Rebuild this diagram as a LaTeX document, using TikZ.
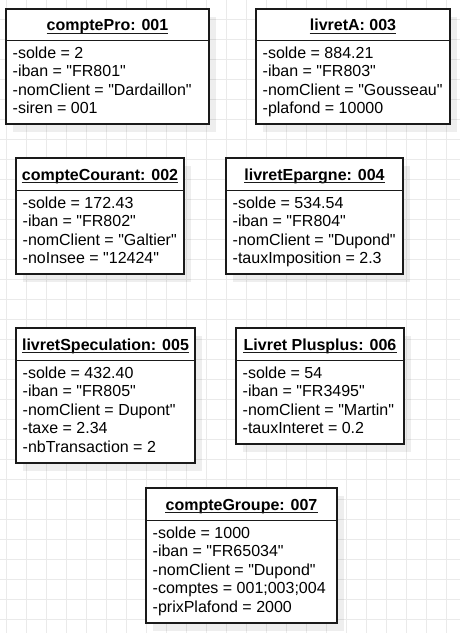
\documentclass[tikz,border=0pt]{standalone}
\usepackage{fontspec}
\setmainfont{Liberation Sans}[Ligatures=TeXOff]
\definecolor{gridc}{HTML}{EAEAEA}
\definecolor{boxc}{HTML}{1A1A1A}
\tikzset{
  gridline/.style={draw=gridc, line width=1pt},
  shadowfill/.style={fill=black, opacity=0.065},
  objbox/.style={draw=boxc, line width=1.5pt, fill=white, inner sep=0pt, outer sep=0pt, anchor=north west},
  objline/.style={draw=boxc, line width=1.5pt},
  hdr/.style={font=\bfseries\fontsize{16}{18}\selectfont, inner sep=0pt, anchor=base},
  ulline/.style={draw=boxc, line width=1.2pt},
  attr/.style={font=\fontsize{16}{18}\selectfont, inner sep=0pt, anchor=base west},
}
% #1 name, #2 x1, #3 y1, #4 x2, #5 y2, #6 divider y, #7 header, #8 attribute lines
\newcommand{\umlobj}[8]{%
  \fill[shadowfill] ({#2+7},{#3+8}) rectangle ({#4+7},{#5+8});
  \node[objbox, minimum width={(#4-#2)*1pt}, minimum height={(#5-#3)*1pt}] (#1) at (#2,#3) {};
  \draw[objline] (#1.west |- 0,#6) -- (#1.east |- 0,#6);
  \node[hdr] (#1-h) at ({(#2+#4)/2},{(#3+#6)/2+5.8}) {#7};
  \draw[ulline] ([yshift=-2.6pt]#1-h.base west) -- ([yshift=-2.6pt]#1-h.base east);
  \foreach \t [count=\i] in {#8} {
    \node[attr] (#1-\i) at ({#2+6.5},{#6+17.8+18.5*(\i-1)}) {\t};
  }
}
\begin{document}
\begin{tikzpicture}[x=1pt,y=-1pt]
\useasboundingbox (0,0) rectangle (460,633);
\fill[white] (0,0) rectangle (460,633);
\foreach \k in {0,...,22} { \draw[gridline] ({6.7+20*\k},0) -- ({6.7+20*\k},633); }
\foreach \k in {0,...,30} { \draw[gridline] (0,{19.3+20*\k}) -- (460,{19.3+20*\k}); }

\umlobj{cp}{6}{9}{209}{124}{40.5}{comptePro: 001}%
  {-solde = 2, -iban = "FR801", -nomClient = "Dardaillon", -siren = 001}
\umlobj{la}{256}{9}{450}{124}{40.5}{livretA: 003}%
  {-solde = 884.21, -iban = "FR803", -nomClient = "Gousseau", -plafond = 10000}
\umlobj{cc}{16}{158}{184}{274}{190.5}{compteCourant: 002}%
  {-solde = 172.43, -iban = "FR802", -nomClient = "Galtier", -noInsee = "12424"}
\umlobj{le}{226}{158}{403}{274}{190.5}{livretEpargne: 004}%
  {-solde = 534.54, -iban = "FR804", -nomClient = "Dupond", -tauxImposition = 2.3}
\umlobj{ls}{16}{328}{195}{463}{360.5}{livretSpeculation: 005}%
  {-solde = 432.40, -iban = "FR805", -nomClient = Dupont", -taxe = 2.34, -nbTransaction = 2}
\umlobj{lp}{236}{328}{404}{444}{360.5}{Livret Plusplus: 006}%
  {-solde = 54, -iban = "FR3495", -nomClient = "Martin", -tauxInteret = 0.2}
\umlobj{cg}{146}{488}{337}{623}{520.5}{compteGroupe: 007}%
  {-solde = 1000, -iban = "FR65034", -nomClient = "Dupond", -comptes = 001;003;004, -prixPlafond = 2000}
\end{tikzpicture}
\end{document}
